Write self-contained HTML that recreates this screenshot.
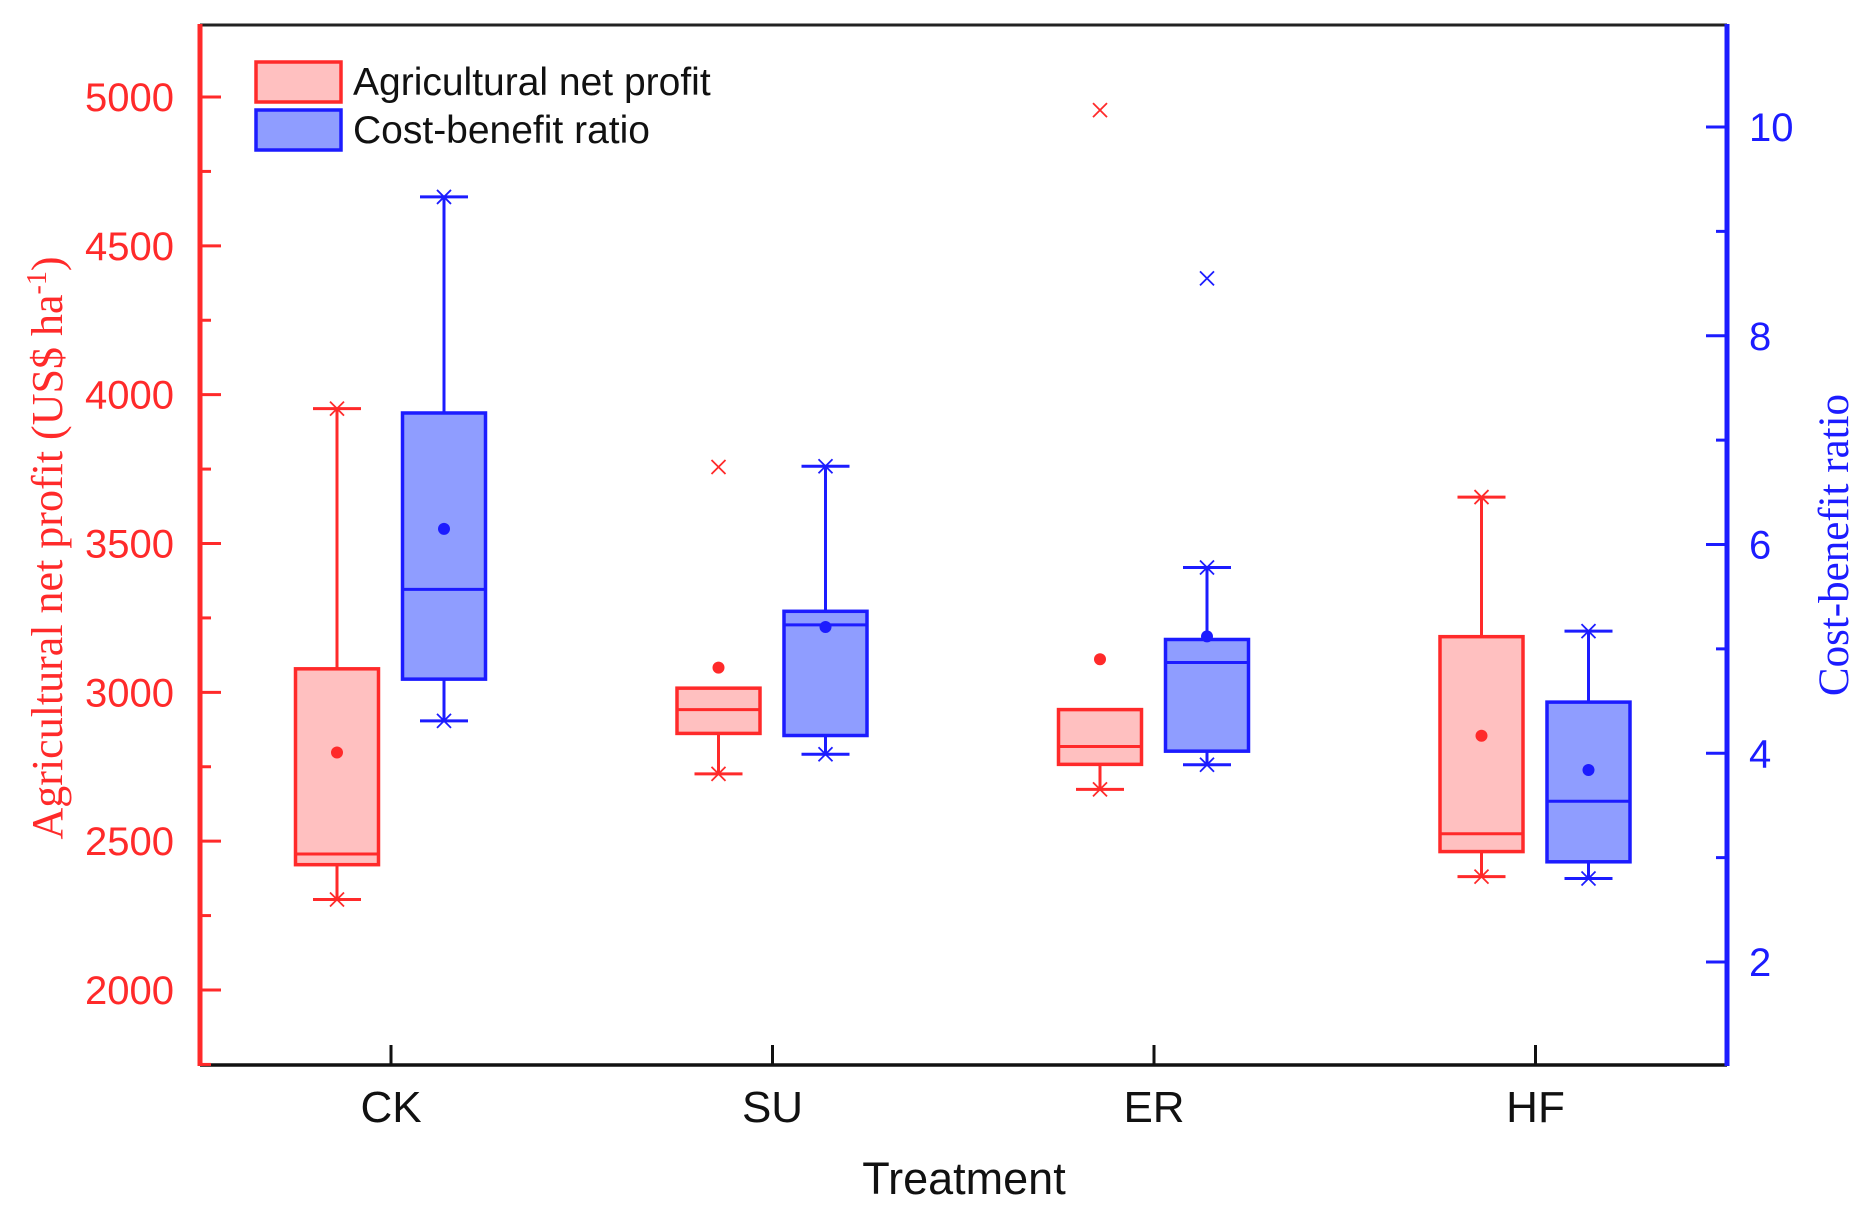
<!DOCTYPE html>
<html><head><meta charset="utf-8">
<style>
html,body{margin:0;padding:0;background:#fff;}
svg{display:block;}
text{font-family:"Liberation Sans",Arial,sans-serif;}
</style></head>
<body>
<svg id="chart" width="1868" height="1219" viewBox="0 0 1868 1219" xmlns="http://www.w3.org/2000/svg"></svg>
<script>
const categories = ["CK","SU","ER","HF"];
// Agricultural net profit
const profitMin = [2304, 2726, 2674, 2381];
const profitQ1 = [2421, 2862, 2758, 2465];
const profitMedian = [2457, 2942, 2818, 2525];
const profitQ3 = [3079, 3014, 2942, 3187];
const profitMax = [3953, 3014, 2942, 3656];
const profitMean = [2798, 3083, 3111, 2854];
const profitOutlier = [null, 3757, 4956, null];
// Cost-benefit ratio
const ratioMin = [4.31, 3.99, 3.89, 2.80];
const ratioQ1 = [4.71, 4.17, 4.02, 2.96];
const ratioMedian = [5.57, 5.23, 4.87, 3.54];
const ratioQ3 = [7.26, 5.36, 5.09, 4.49];
const ratioMax = [9.33, 6.75, 5.78, 5.17];
const ratioMean = [6.15, 5.21, 5.12, 3.84];
const ratioOutlier = [null, null, 8.55, null];
const leftTicks = [2000,2500,3000,3500,4000,4500,5000];
const rightTicks = [2,4,6,8,10];

const svg = document.getElementById('chart');
const NS = 'http://www.w3.org/2000/svg';
const RED = '#ff2a2a', REDF = '#ffc0c0', BLUE = '#1c1cff', BLUEF = '#8f9dff';
const X0 = 200, X1 = 1727, Y0 = 25, Y1 = 1065;
function yL(v){ return 990 + (2000 - v) * (893/3000); }
function yR(v){ return 962 - (v - 2) * (835/8); }
function xC(i){ return 391 + i * 381.5; }

function mk(tag, attrs, parent){
  const e = document.createElementNS(NS, tag);
  for (const k in attrs) e.setAttribute(k, attrs[k]);
  (parent || svg).appendChild(e);
  return e;
}
function line(x1,y1,x2,y2,c,w,p){ return mk('line',{x1:x1,y1:y1,x2:x2,y2:y2,stroke:c,'stroke-width':w},p); }
function txt(x,y,s,attrs,p){ const t = mk('text',Object.assign({x:x,y:y},attrs),p); t.textContent = s; return t; }

let e;
e = line(X0, Y0, X1, Y0, '#222', 3);  
e = line(X0, Y1, X1, Y1, '#111', 3.5);  
e = line(X0, Y0-1, X0, Y1+1, RED, 5);  
e = line(X1, Y0-1, X1, Y1+1, BLUE, 5);  

leftTicks.forEach(v => {
  const y = yL(v);
  e = line(X0, y, X0+21, y, RED, 3);  
  e = txt(174, y+14, String(v), {fill:RED,'font-size':40,'text-anchor':'end'});  
  const m = yL(v + 250);
  if (m > Y0) { e = line(X0, m, X0+11, m, RED, 3);   }
});
{ const m = yL(1750); if (m < Y1) { e = line(X0, m, X0+11, m, RED, 3);   } }
rightTicks.forEach(v => {
  const y = yR(v);
  e = line(X1-21, y, X1, y, BLUE, 3);  
  e = txt(1749, y+14, String(v), {fill:BLUE,'font-size':40});  
  const m = yR(v + 1);
  if (m > Y0) { e = line(X1-11, m, X1, m, BLUE, 3);   }
});
categories.forEach((c,i) => {
  e = line(xC(i), Y1, xC(i), Y1-20, '#111', 3);  
  e = txt(xC(i), 1122, c, {fill:'#111','font-size':44,'text-anchor':'middle'});  
});

function star(x, y, c, p){
  const g = mk('g', {}, p);
  line(x-7, y-7, x+7, y+7, c, 1.8, g);
  line(x-7, y+7, x+7, y-7, c, 1.8, g);
  return g;
}
function box(i, off, sc, mn, q1, md, q3, mx, mean, out, c, fill, name){
  const g = mk('g', {});
  
  
  const x = xC(i) + off, w = 83, cap = 48;
  line(x, sc(mx), x, sc(q3), c, 3, g);
  line(x, sc(q1), x, sc(mn), c, 3, g);
  if (mx > q3) { line(x-cap/2, sc(mx), x+cap/2, sc(mx), c, 3, g); star(x, sc(mx), c, g); }
  line(x-cap/2, sc(mn), x+cap/2, sc(mn), c, 3, g); star(x, sc(mn), c, g);
  mk('rect', {x:x-w/2, y:sc(q3), width:w, height:sc(q1)-sc(q3), fill:fill, stroke:c, 'stroke-width':3.5}, g);
  line(x-w/2, sc(md), x+w/2, sc(md), c, 3, g);
  mk('circle', {cx:x, cy:sc(mean), r:6, fill:c}, g);
  if (out !== null) star(x, sc(out), c, g);
}
categories.forEach((c,i) => {
  box(i, -54, yL, profitMin[i], profitQ1[i], profitMedian[i], profitQ3[i], profitMax[i], profitMean[i], profitOutlier[i], RED, REDF, 'profit');
  box(i, 53, yR, ratioMin[i], ratioQ1[i], ratioMedian[i], ratioQ3[i], ratioMax[i], ratioMean[i], ratioOutlier[i], BLUE, BLUEF, 'ratio');
});

const lg = mk('g', {});  
mk('rect', {x:256, y:62, width:85, height:40, fill:REDF, stroke:RED, 'stroke-width':3.5}, lg);
mk('rect', {x:256, y:110, width:85, height:40, fill:BLUEF, stroke:BLUE, 'stroke-width':3.5}, lg);
e = txt(353, 95, 'Agricultural net profit', {fill:'#111','font-size':39}, lg);  
e = txt(353, 143, 'Cost-benefit ratio', {fill:'#111','font-size':39}, lg);  

e = txt(964, 1194, 'Treatment', {fill:'#111','font-size':45,'text-anchor':'middle'});  
const lt = mk('text', {x:0, y:0, transform:'translate(62,548) rotate(-90)', fill:RED, 'font-size':44, 'text-anchor':'middle', style:'font-family:"Liberation Serif",serif'});
 
lt.innerHTML = 'Agricultural net profit (US$ ha<tspan dy="-16" font-size="28">-1</tspan><tspan dy="16">)</tspan>';
const rt = mk('text', {x:0, y:0, transform:'translate(1848,545) rotate(-90)', fill:BLUE, 'font-size':43, 'text-anchor':'middle', style:'font-family:"Liberation Serif",serif'});
 
rt.textContent = 'Cost-benefit ratio';
</script>
</body></html>
